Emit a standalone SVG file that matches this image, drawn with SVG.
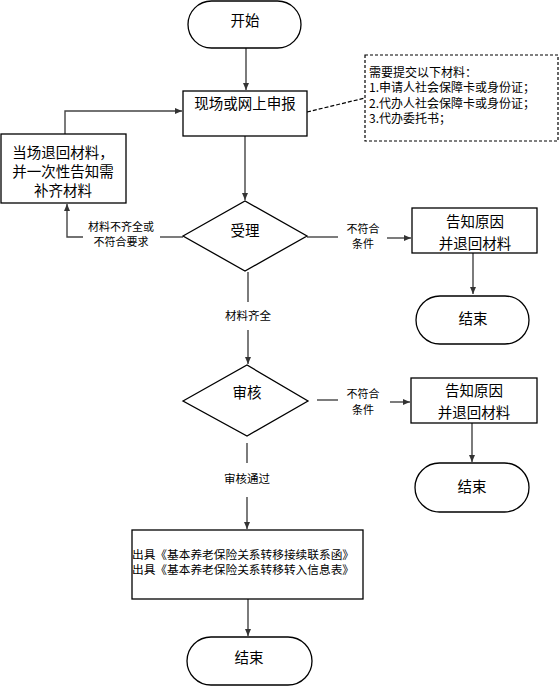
<svg xmlns="http://www.w3.org/2000/svg" width="559" height="686" viewBox="0 0 559 686">
<style>
.shape{fill:#fff;stroke:#000;stroke-width:1.3}
.t{font-family:"Noto Sans CJK SC","Noto Sans",sans-serif;fill:#000;text-anchor:middle;dominant-baseline:central}
.big{font-size:14.5px}
.sm{font-size:11.5px}
.lb{font-size:11px}
.nt{font-size:12px;text-anchor:start}
.c{fill:none;stroke:#444;stroke-width:1.4}
</style>
<defs>
<marker id="ah" markerWidth="8" markerHeight="8" refX="7" refY="4" orient="auto" markerUnits="userSpaceOnUse">
<path d="M0,1 L7,4 L0,7 Z" fill="#333"/>
</marker>
</defs>
<rect width="559" height="686" fill="#fff"/>
<g id="connectors">
<line class="c" x1="246" y1="48" x2="246" y2="90" marker-end="url(#ah)"/>
<line x1="307" y1="112" x2="365" y2="98" stroke="#000" stroke-width="1.2" stroke-dasharray="4,2"/>
<line class="c" x1="245" y1="136" x2="245" y2="200" marker-end="url(#ah)"/>
<polyline class="c" points="65,134 65,111 182,111" marker-end="url(#ah)"/>
<line class="c" x1="183" y1="237" x2="160" y2="237"/>
<polyline class="c" points="83,237 67,237 67,204" marker-end="url(#ah)"/>
<line class="c" x1="307" y1="237" x2="338" y2="237"/>
<line class="c" x1="387" y1="238" x2="411" y2="238" marker-end="url(#ah)"/>
<line class="c" x1="473" y1="253" x2="473" y2="294" marker-end="url(#ah)"/>
<line class="c" x1="248" y1="272" x2="248" y2="302"/>
<line class="c" x1="248" y1="330" x2="248" y2="364" marker-end="url(#ah)"/>
<line class="c" x1="317" y1="400" x2="338" y2="400"/>
<line class="c" x1="390" y1="402" x2="410" y2="402" marker-end="url(#ah)"/>
<line class="c" x1="472" y1="423" x2="472" y2="462" marker-end="url(#ah)"/>
<line class="c" x1="247" y1="443" x2="247" y2="463"/>
<line class="c" x1="247" y1="497" x2="247" y2="529" marker-end="url(#ah)"/>
<line class="c" x1="248" y1="599" x2="248" y2="636" marker-end="url(#ah)"/>
<text class="t lb" x="121" y="226">材料不齐全或</text>
<text class="t lb" x="121" y="241">不符合要求</text>
<text class="t lb" x="363" y="228">不符合</text>
<text class="t lb" x="363" y="243">条件</text>
<text class="t sm" x="248" y="315">材料齐全</text>
<text class="t lb" x="363" y="393">不符合</text>
<text class="t lb" x="363" y="409">条件</text>
<text class="t sm" x="247" y="478">审核通过</text>
</g>
<g id="start">
<rect class="shape" x="188" y="1" width="113" height="47" rx="23.5"/>
<text class="t big" x="245" y="19">开始</text>
</g>
<g id="report">
<rect class="shape" x="183" y="91" width="124" height="45"/>
<text class="t big" x="245" y="102">现场或网上申报</text>
</g>
<g id="note">
<rect x="365" y="55" width="193" height="86" fill="#fff" stroke="#000" stroke-width="1.2" stroke-dasharray="3,2"/>
<text class="t nt" x="369" y="71">需要提交以下材料：</text>
<text class="t nt" x="369" y="86.5">1.申请人社会保障卡或身份证；</text>
<text class="t nt" x="369" y="102">2.代办人社会保障卡或身份证；</text>
<text class="t nt" x="369" y="117.5">3.代办委托书；</text>
</g>
<g id="return">
<rect class="shape" x="1" y="134" width="125" height="69"/>
<text class="t big" x="63" y="151">当场退回材料，</text>
<text class="t big" x="63" y="170">并一次性告知需</text>
<text class="t big" x="63" y="189">补齐材料</text>
</g>
<g id="accept">
<polygon class="shape" points="183,236 245,201 307,236 245,271"/>
<text class="t big" x="245" y="229">受理</text>
</g>
<g id="reject1">
<rect class="shape" x="412" y="208" width="125" height="45"/>
<text class="t big" x="475" y="220">告知原因</text>
<text class="t big" x="475" y="242">并退回材料</text>
</g>
<g id="end1">
<rect class="shape" x="416" y="296" width="113" height="48" rx="24"/>
<text class="t big" x="473" y="317">结束</text>
</g>
<g id="review">
<polygon class="shape" points="183,401 247,365 308,401 247,436"/>
<text class="t big" x="247" y="391">审核</text>
</g>
<g id="reject2">
<rect class="shape" x="411" y="378" width="126" height="45"/>
<text class="t big" x="474" y="389">告知原因</text>
<text class="t big" x="474" y="411">并退回材料</text>
</g>
<g id="end2">
<rect class="shape" x="415" y="463" width="114" height="49" rx="24.5"/>
<text class="t big" x="472" y="485">结束</text>
</g>
<g id="issue">
<rect class="shape" x="132" y="530" width="231" height="69"/>
<text class="t sm" x="132" y="554" style="text-anchor:start" textLength="222" lengthAdjust="spacingAndGlyphs">出具《基本养老保险关系转移接续联系函》</text>
<text class="t sm" x="132" y="569" style="text-anchor:start" textLength="222" lengthAdjust="spacingAndGlyphs">出具《基本养老保险关系转移转入信息表》</text>
</g>
<g id="end3">
<rect class="shape" x="187" y="637" width="125" height="48" rx="24"/>
<text class="t big" x="249" y="656">结束</text>
</g>
</svg>
